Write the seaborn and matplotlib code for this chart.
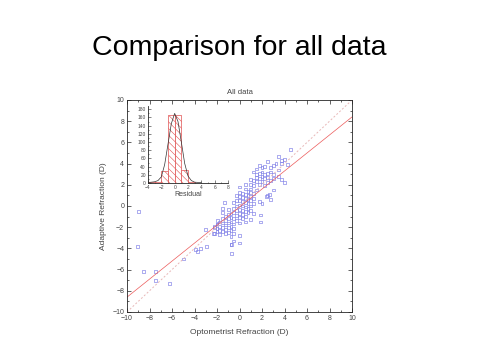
import numpy as np
import pandas as pd
import seaborn as sns
import matplotlib.pyplot as plt
from matplotlib.ticker import MultipleLocator

sns.set_style("ticks")
plt.rcParams['font.family'] = ['Liberation Sans', 'DejaVu Sans']
plt.rcParams['hatch.color'] = '#f09090'
plt.rcParams['hatch.linewidth'] = 0.4

# scatter data: optometrist refraction (x) vs adaptive refraction (y), in D
outlier_x = [-9.0, -9.1, -8.5, -7.45, -7.5, -6.2, -5.0, -3.9, -3.75, -3.5, -2.9, -3.0,
             -2.25, -2.0, -1.95, -2.3, -0.7, 0.0, 0.0, -0.5, -0.7, 1.9, 1.9, 2.7, 2.4]
outlier_y = [-0.5, -3.8, -6.2, -6.2, -7.0, -7.3, -5.0, -4.1, -4.3, -4.0, -3.8, -2.2,
             -1.95, -1.7, -1.4, -2.6, -4.5, -2.8, -3.5, -3.3, -3.6, -0.85, -1.5, 1.1, 0.9]

upper_x = [4.5, 3.5, 3.75, 4.0, 2.5, 3.25, 3.7, 1.75, 2.0, 2.25, 2.75, 3.0, 4.25, 1.5, 3.5,
           1.25, 1.5, 1.75, 2.0, 2.25, 2.5, 2.75, 3.0, 1.5, 1.75, 2.0, 2.25, 2.5, 3.0, 3.5,
           1.0, 1.25, 1.5, 2.0, 2.5, 2.75, 1.0, 1.25, 1.75, 2.25, 3.75, 4.0, 3.0, 2.5, 2.75,
           1.75, 2.0, 1.0, 1.5]
upper_y = [5.3, 4.7, 4.3, 4.4, 4.2, 4.0, 4.0, 3.8, 3.6, 3.7, 3.6, 3.8, 3.9, 3.5, 3.4,
           3.2, 3.0, 3.1, 3.2, 3.0, 3.1, 3.2, 3.0, 2.7, 2.6, 2.8, 2.6, 2.7, 2.6, 2.8,
           2.5, 2.4, 2.3, 2.3, 2.2, 2.4, 2.0, 1.9, 2.0, 1.9, 2.5, 2.2, 1.5, 1.0, 0.6,
           0.4, 0.2, 1.6, 1.5]

middle_x = [-0.5] * 4 + [-0.25] * 6 + [0.0] * 9 + [0.25] * 7 + [0.5] * 8 + [0.75] * 6 \
    + [1.0] * 5 + [1.25] * 4 + [1.0, 0.5, -1.3, -1.5]
middle_y = [-1.2, -0.6, -0.2, 0.3,
            -1.4, -0.9, -0.4, 0.0, 0.5, 1.0,
            -1.6, -1.1, -0.7, -0.3, 0.1, 0.5, 0.9, 1.3, 1.8,
            -1.2, -0.8, -0.4, 0.0, 0.4, 0.8, 1.2,
            -1.0, -0.5, -0.1, 0.3, 0.7, 1.1, 1.6, 2.0,
            -0.6, -0.2, 0.2, 0.6, 1.0, 1.4,
            -0.4, 0.0, 0.5, 0.9, 1.3,
            -0.7, 0.2, 0.7, 1.2,
            -1.3, -1.5, 0.3, -0.2]

lower_x = [-2.25] * 2 + [-2.0] * 3 + [-1.75] * 4 + [-1.5] * 5 + [-1.25] * 5 + [-1.0] * 6 \
    + [-0.75] * 7 + [-0.5] * 3
lower_y = [-2.0, -2.6,
           -1.7, -2.1, -2.4,
           -1.5, -1.9, -2.3, -2.7,
           -1.2, -1.6, -2.0, -2.4, -0.6,
           -1.0, -1.4, -1.8, -2.2, -2.6,
           -0.8, -1.2, -1.6, -2.0, -2.5, -0.3,
           -0.7, -1.1, -1.5, -1.9, -2.3, -2.9, -3.6,
           -1.7, -2.1, -2.6]

# lines: linear fit and identity line
fit_x = [-10, 10]
fit_y = [-8.6, 8.4]
ident_x = [-10, 10]
ident_y = [-10, 10]

# residual histogram (inset)
bin_edges = [-4, -3, -2, -1, 0, 1, 2, 3]
bin_counts = [3, 3, 30, 165, 167, 32, 3]
curve_x = [-4, -3, -2.5, -2, -1.5, -1, -0.5, 0, 0.5, 1, 1.5, 2, 2.5, 3, 4]
curve_y = [1, 3, 6, 15, 45, 95, 145, 170, 150, 100, 48, 17, 6, 2, 1]

df = pd.DataFrame({'x': outlier_x + upper_x + middle_x + lower_x,
                   'y': outlier_y + upper_y + middle_y + lower_y})

fig = plt.figure(figsize=(4.8, 3.6), dpi=100)
fig.text(0.498, 0.868, "Comparison for all data", ha='center', va='center',
         fontsize=20.5, color='black')

ax = fig.add_axes([127/480, 1-312/360, 225/480, 212/360])
sns.lineplot(x=ident_x, y=ident_y, ax=ax, color='#e8b8b8', lw=0.7, linestyle=(0, (2, 2)))
sns.lineplot(x=fit_x, y=fit_y, ax=ax, color='#ec5a5a', lw=0.5)
sns.scatterplot(data=df, x='x', y='y', ax=ax, marker='s', s=4, facecolor='none',
                edgecolor='#7c7ce6', linewidth=0.45)
ax.set_xlim(-10, 10)
ax.set_ylim(-10, 10)
ax.xaxis.set_major_locator(MultipleLocator(2))
ax.yaxis.set_major_locator(MultipleLocator(2))
ax.xaxis.set_minor_locator(MultipleLocator(1))
ax.yaxis.set_minor_locator(MultipleLocator(1))
ax.tick_params(which='both', direction='in', top=True, right=True, labelsize=5,
               labelcolor='#444444', width=0.5, pad=2)
ax.tick_params(which='major', length=3)
ax.tick_params(which='minor', length=1.5)
for s in ax.spines.values():
    s.set_linewidth(0.6)
ax.set_xlabel("Optometrist Refraction (D)", fontsize=6, color='#444444', labelpad=5)
ax.set_ylabel("Adaptive Refraction (D)", fontsize=6, color='#444444', labelpad=4)
ax.set_title("All data", fontsize=5.5, color='#444444', pad=4)

# inset histogram of residuals
ins = fig.add_axes([148/480, 1-183/360, 80/480, 77/360])
centers = [(a + b) / 2 for a, b in zip(bin_edges[:-1], bin_edges[1:])]
sns.histplot(x=centers, weights=bin_counts, bins=bin_edges, ax=ins, color='white',
             edgecolor='#e05050', linewidth=0.5, alpha=1)
for p in ins.patches:
    p.set_hatch('\\\\\\\\\\')
    if hasattr(p, 'set_hatchcolor'):
        p.set_hatchcolor('#f4a0a0')
sns.lineplot(x=curve_x, y=curve_y, ax=ins, color='#333333', lw=0.5)
ins.set_xlim(-4, 8)
ins.set_ylim(0, 188)
ins.xaxis.set_major_locator(MultipleLocator(2))
ins.xaxis.set_minor_locator(MultipleLocator(1))
ins.yaxis.set_major_locator(MultipleLocator(20))
ins.yaxis.set_minor_locator(MultipleLocator(10))
ins.tick_params(which='both', direction='in', labelsize=3.5, labelcolor='#444444',
                width=0.4, pad=1.5)
ins.tick_params(which='major', length=2)
ins.tick_params(which='minor', length=1)
ins.spines['top'].set_visible(False)
ins.spines['right'].set_visible(False)
for s in ['left', 'bottom']:
    ins.spines[s].set_linewidth(0.6)
ins.set_ylabel("")
ins.set_xlabel("Residual", fontsize=5, color='#444444', labelpad=1)
ins.patch.set_alpha(0)

plt.savefig("out.png", dpi=100)
